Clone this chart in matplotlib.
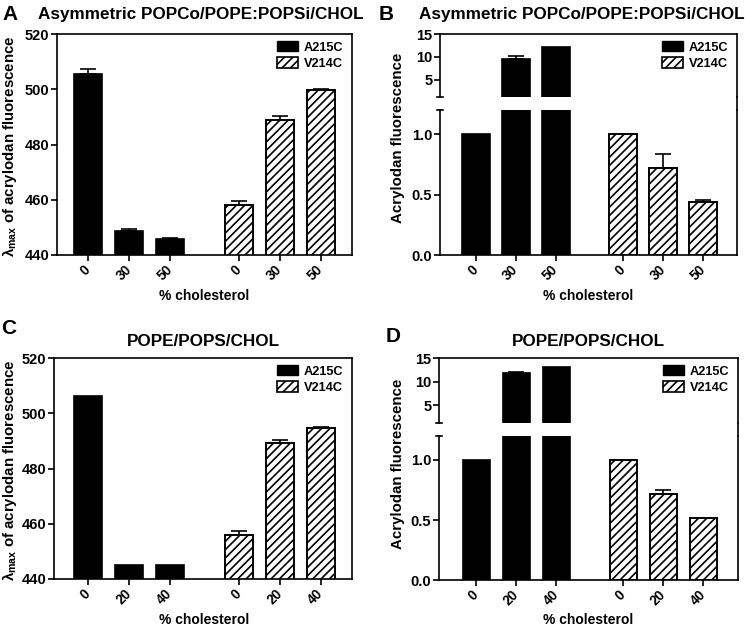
import numpy as np
import matplotlib
matplotlib.use("Agg")
import matplotlib.pyplot as plt
from matplotlib.patches import Patch
from matplotlib.lines import Line2D

plt.rcParams['font.family'] = ['Liberation Sans', 'DejaVu Sans']
plt.rcParams['font.weight'] = 'bold'
plt.rcParams['axes.labelweight'] = 'bold'
plt.rcParams['hatch.linewidth'] = 1.2
plt.rcParams['mathtext.default'] = 'regular'

# 数据
SERIES = ["A215C", "V214C"]
CHOL_AB = ["0", "30", "50"]
CHOL_CD = ["0", "20", "40"]

# A: lambda max, asymmetric
a_A215C = [505.5, 448.8, 445.8]
a_A215C_err = [1.8, 0.5, 0.4]
a_V214C = [458.2, 489.0, 499.6]
a_V214C_err = [1.3, 1.4, 0.5]

# B: acrylodan fluorescence, asymmetric
b_A215C = [1.0, 9.6, 12.1]
b_A215C_err = [0, 0.5, 0]
b_V214C = [1.0, 0.72, 0.44]
b_V214C_err = [0, 0.12, 0.015]

# C: lambda max, POPE/POPS/CHOL
c_A215C = [506.2, 445.2, 445.2]
c_A215C_err = [0, 0, 0]
c_V214C = [456.0, 489.2, 494.6]
c_V214C_err = [1.5, 1.2, 0.6]

# D: acrylodan fluorescence, POPE/POPS/CHOL
d_A215C = [1.0, 11.9, 13.0]
d_A215C_err = [0, 0.2, 0]
d_V214C = [1.0, 0.715, 0.514]
d_V214C_err = [0, 0.035, 0]

TITLE_ASYM = "Asymmetric POPCo/POPE:POPSi/CHOL"
TITLE_SYM = "POPE/POPS/CHOL"
YLABEL_LMAX = "λ$_{max}$ of acrylodan fluorescence"
YLABEL_FL = "Acrylodan fluorescence"
XLABEL = "% cholesterol"

# 布局
W, H = 745, 629
GAP = 3.68       # 第二组柱子的起始位置
BAR_W = 0.68
LW = 1.2
TICK_FS = 10.5


def rect(l, r, t, b):
    return [l / W, 1 - b / H, (r - l) / W, (b - t) / H]


def draw_bars(ax, av, ae, vv, ve):
    xa = np.arange(3)
    xv = np.arange(3) + GAP
    ax.bar(xa, av, width=BAR_W, color='black', edgecolor='black', linewidth=LW, zorder=2)
    ax.bar(xv, vv, width=BAR_W, color='white', edgecolor='black', hatch='////',
           linewidth=1.4, zorder=2)
    for xs, vals, errs in ((xa, av, ae), (xv, vv, ve)):
        for x, v, e in zip(xs, vals, errs):
            if e > 0:
                ax.errorbar(x, v, yerr=[[0], [e]], fmt='none', ecolor='black',
                            elinewidth=LW, capsize=5.5, capthick=LW, zorder=1)


def style_ax(ax):
    for s in ax.spines.values():
        s.set_linewidth(LW)
    ax.tick_params(direction='out', length=4, width=LW, labelsize=TICK_FS, pad=1.5)


def set_xticks(ax, labels):
    ax.set_xticks(list(np.arange(3)) + list(np.arange(3) + GAP))
    ax.set_xticklabels(labels * 2, rotation=45, ha='right', va='center',
                       rotation_mode='anchor', fontsize=9.8, fontweight='bold')
    ax.tick_params(axis='x', pad=5)


def add_legend(ax, right_px, top_px, width_px, height_px):
    handles = [Patch(facecolor='black', edgecolor='black'),
               Patch(facecolor='white', edgecolor='black', hatch='////', linewidth=1.2)]
    ax.legend(handles, SERIES, loc='upper right',
              bbox_to_anchor=(1 - right_px / width_px, 1 - top_px / height_px),
              frameon=False, handlelength=1.6, handleheight=0.85,
              handletextpad=0.45, labelspacing=0.3, borderpad=0, borderaxespad=0,
              prop={'weight': 'bold', 'size': 9.2})


def lmax_panel(fig, box, av, ae, vv, ve, labels, xlim):
    ax = fig.add_axes(rect(*box))
    draw_bars(ax, av, ae, vv, ve)
    ax.set_ylim(440, 520)
    ax.set_yticks([440, 460, 480, 500, 520])
    ax.set_xlim(*xlim)
    style_ax(ax)
    set_xticks(ax, labels)
    for t in ax.get_yticklabels():
        t.set_fontweight('bold')
    add_legend(ax, 9, 7, box[1] - box[0], box[3] - box[2])
    return ax


def broken_panel(fig, box_top, box_bot, av, ae, vv, ve, labels, xlim):
    ax_t = fig.add_axes(rect(*box_top))
    ax_b = fig.add_axes(rect(*box_bot))
    for ax in (ax_t, ax_b):
        draw_bars(ax, av, ae, vv, ve)
        ax.set_xlim(*xlim)
        style_ax(ax)
    ax_t.set_ylim(1.2, 15)
    ax_t.set_yticks([5, 10, 15])
    ax_t.set_xticks([])
    ax_t.spines['bottom'].set_visible(False)
    ax_b.set_ylim(0, 1.2)
    ax_b.set_yticks([0.0, 0.5, 1.0])
    ax_b.set_yticklabels(['0.0', '0.5', '1.0'])
    ax_b.spines['top'].set_visible(False)
    set_xticks(ax_b, labels)
    for ax in (ax_t, ax_b):
        for t in ax.get_yticklabels():
            t.set_fontweight('bold')
    # 断轴标记
    d = 3 / (box_top[1] - box_top[0])
    ax_t.plot([-d, d], [0, 0], transform=ax_t.transAxes, color='black', lw=LW, clip_on=False)
    ax_b.plot([-d, d], [1, 1], transform=ax_b.transAxes, color='black', lw=LW, clip_on=False)
    # 右边框连续
    xr = box_top[1] / W
    fig.add_artist(Line2D([xr, xr], [1 - box_top[3] / H, 1 - box_bot[2] / H],
                          transform=fig.transFigure, color='black', lw=LW))
    add_legend(ax_t, 9, 7, box_top[1] - box_top[0], box_top[3] - box_top[2])
    return ax_t, ax_b


fig = plt.figure(figsize=(W / 100, H / 100), dpi=100)

# A
boxA = (57, 352, 34, 255)
lmax_panel(fig, boxA, a_A215C, a_A215C_err, a_V214C, a_V214C_err, CHOL_AB, (-0.76, 6.44))
# B
broken_panel(fig, (440, 737, 34, 97), (440, 737, 110, 255),
             b_A215C, b_A215C_err, b_V214C, b_V214C_err, CHOL_AB, (-0.9, 6.53))
# C
boxC = (54, 352, 358, 579)
lmax_panel(fig, boxC, c_A215C, c_A215C_err, c_V214C, c_V214C_err, CHOL_CD, (-0.83, 6.44))
# D
broken_panel(fig, (439, 738, 358, 423), (439, 738, 436, 580),
             d_A215C, d_A215C_err, d_V214C, d_V214C_err, CHOL_CD, (-0.93, 6.55))


def ftext(x, y, s, **kw):
    fig.text(x / W, 1 - y / H, s, **kw)


# 面板字母、标题、坐标轴标签
ftext(2, 15, "A", fontsize=15, fontweight='bold', va='center', ha='left')
ftext(379, 15, "B", fontsize=15, fontweight='bold', va='center', ha='left')
ftext(1, 329, "C", fontsize=15, fontweight='bold', va='center', ha='left')
ftext(386, 337, "D", fontsize=15, fontweight='bold', va='center', ha='left')

ftext(201, 15, TITLE_ASYM, fontsize=12.3, fontweight='bold', ha='center', va='center')
ftext(582, 15, TITLE_ASYM, fontsize=12.3, fontweight='bold', ha='center', va='center')
ftext(203, 341, TITLE_SYM, fontsize=12.3, fontweight='bold', ha='center', va='center')
ftext(588, 341, TITLE_SYM, fontsize=12.3, fontweight='bold', ha='center', va='center')

ftext(10, 146, YLABEL_LMAX, fontsize=10.8, fontweight='bold', rotation=90, ha='center', va='center')
ftext(398, 138, YLABEL_FL, fontsize=10.8, fontweight='bold', rotation=90, ha='center', va='center')
ftext(10, 470, YLABEL_LMAX, fontsize=10.8, fontweight='bold', rotation=90, ha='center', va='center')
ftext(398, 464, YLABEL_FL, fontsize=10.8, fontweight='bold', rotation=90, ha='center', va='center')

ftext(204, 296, XLABEL, fontsize=10, fontweight='bold', ha='center', va='center')
ftext(588, 296, XLABEL, fontsize=10, fontweight='bold', ha='center', va='center')
ftext(204, 620, XLABEL, fontsize=10, fontweight='bold', ha='center', va='center')
ftext(588, 620, XLABEL, fontsize=10, fontweight='bold', ha='center', va='center')

fig.savefig("out.png", dpi=100)
